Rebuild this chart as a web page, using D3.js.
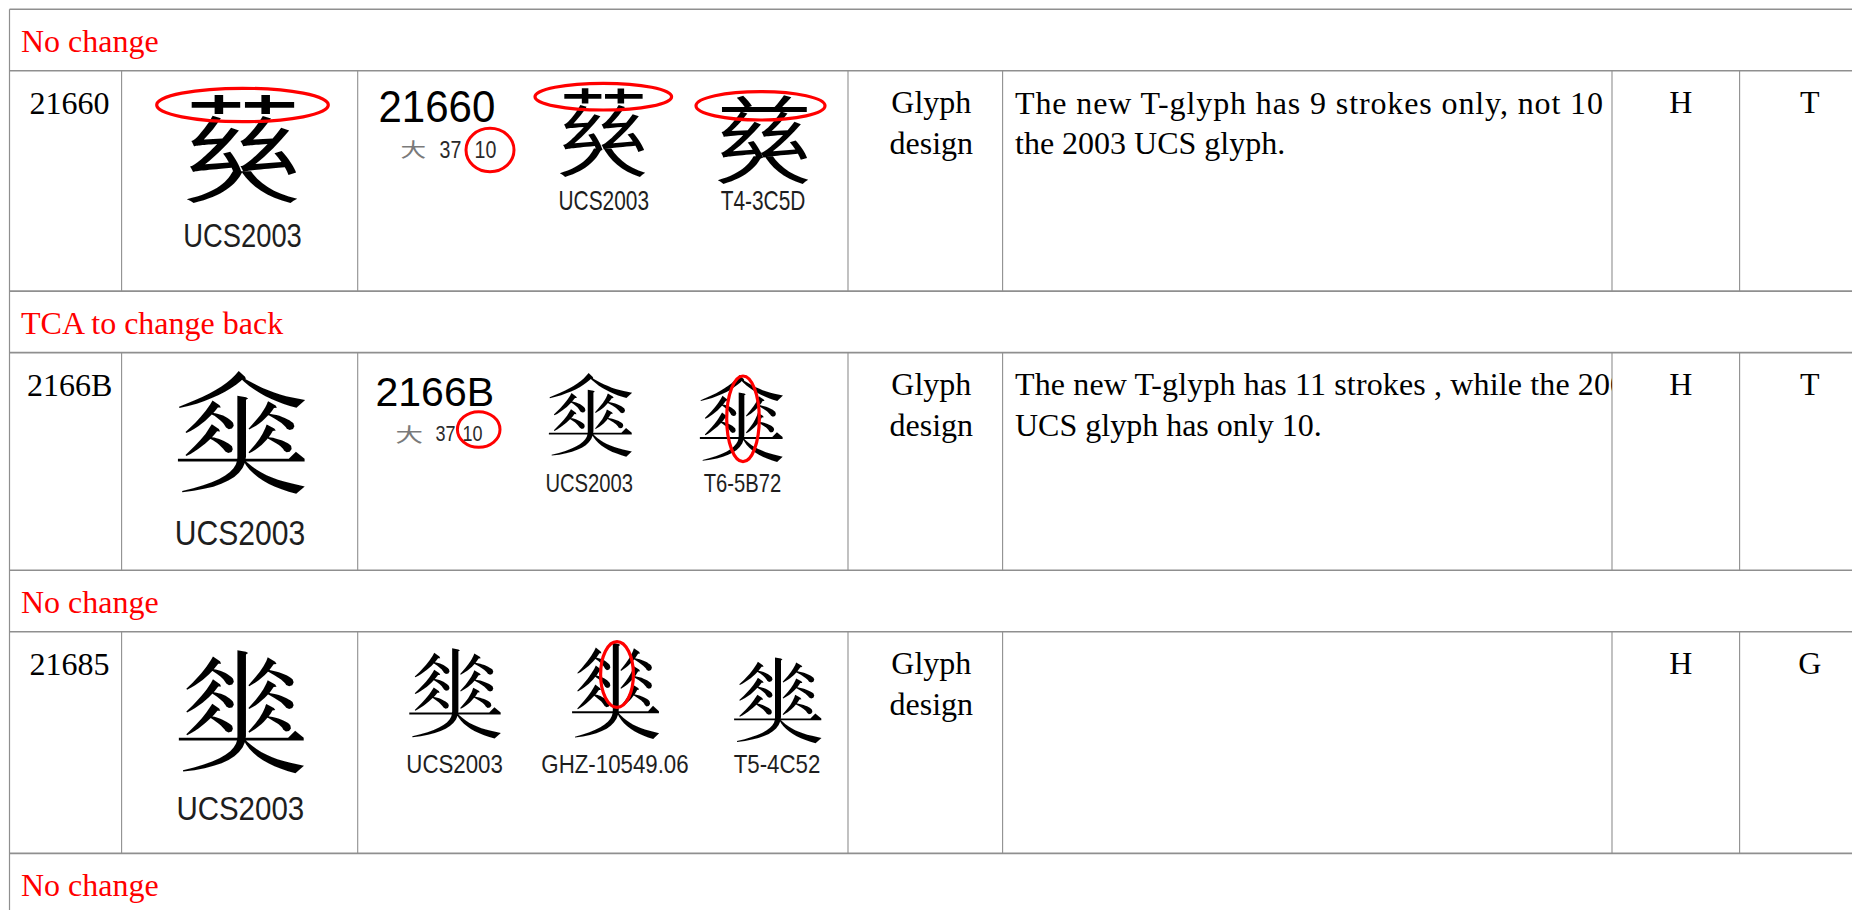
<!DOCTYPE html>
<html><head><meta charset="utf-8">
<script src="https://cdn.jsdelivr.net/npm/d3@7"></script>
<style>html,body{margin:0;padding:0;background:#fff;overflow:hidden}</style>
</head><body>
<svg id="c" width="1852" height="910"></svg>
<script>
// ---------- data ----------
const bandLabels = ["No change", "TCA to change back", "No change", "No change"];
const codes = ["21660", "2166B", "21685"];
const bigGlyphs = ["\u{21660}", "\u{2166B}", "\u{21685}"];
const bigGlyphLabels = ["UCS2003", "UCS2003", "UCS2003"];
const refCodes = ["21660", "2166B", ""];
const radicalInfo = [["大", "37", "10"], ["大", "37", "10"], null];
const variantGlyphs = [["\u{21660}", "\u{21660}"], ["\u{2166B}", "\u{2166B}"], ["\u{21685}", "\u{21685}", "\u{21685}"]];
const variantLabels = [["UCS2003", "T4-3C5D"], ["UCS2003", "T6-5B72"], ["UCS2003", "GHZ-10549.06", "T5-4C52"]];
// 𡙠 is missing from the installed fonts: it is drawn from its components 茲/兹 over 大
const componentsOf21660 = { ucs: ["茲", "大"], t: ["兹", "大"] };
const categories = [["Glyph", "design"], ["Glyph", "design"], ["Glyph", "design"]];
const comments = [["The new T-glyph has 9 strokes only, not 10", "the 2003 UCS glyph."],
                  ["The new T-glyph has 11 strokes , while the 20", "UCS glyph has only 10."], []];
const commentOverflow = ["", "03", ""];   // rest of a first line, hidden by the cell border
const colH = ["H", "H", "H"];
const colLast = ["T", "T", "G"];

// ---------- layout ----------
const W = 1852, H = 910;
const colEdges = [9.5, 121.6, 357.7, 848, 1002.6, 1612, 1739.6, 1876];
const bandH = 61.5;
const rowHeights = [220.3, 217.7, 221.6];
const serif = "'Liberation Serif','Times New Roman',serif";
const sans = "'Liberation Sans',Arial,sans-serif";
const cjkTC = "'Noto Sans CJK TC'";
const cjkSC = "'Noto Sans CJK SC'";

let yy = 9.3; const bandTops = [], rowTops = [];
bandLabels.forEach((b, i) => { bandTops.push(yy); yy += bandH; if (i < rowHeights.length) { rowTops.push(yy); yy += rowHeights[i]; } });

const x = d3.scaleOrdinal().domain(d3.range(colEdges.length)).range(colEdges);
const svg = d3.select("#c");
const defs = svg.append("defs");
const gridColor = "#8f8f8f";

// ---------- ink measurement (for fitting glyphs to the reference boxes) ----------
const CW = 520, FS = 200, OX = 160, OY = 390;
const cv = document.createElement("canvas"); cv.width = CW; cv.height = CW;
const ctx = cv.getContext("2d", { willReadFrequently: true });
function measureInk(ch, family) {
  ctx.clearRect(0, 0, CW, CW);
  ctx.font = `${FS}px ${family}`;
  ctx.fillStyle = "#000"; ctx.textBaseline = "alphabetic"; ctx.textAlign = "left";
  ctx.fillText(ch, OX, OY);
  const data = ctx.getImageData(0, 0, CW, CW).data;
  let l = 1e9, r = -1, t = 1e9, b = -1; const rows = new Array(CW).fill(0);
  for (let j = 0; j < CW; j++) for (let i = 0; i < CW; i++) {
    if (data[(j * CW + i) * 4 + 3] > 100) { rows[j]++; if (i < l) l = i; if (i > r) r = i; if (j < t) t = j; if (j > b) b = j; }
  }
  if (r < 0) return { l: 0, r: FS, t: -FS * 0.88, b: FS * 0.12, rows };
  return { l: l - OX, r: r + 1 - OX, t: t - OY, b: b + 1 - OY, rows };
}
function placeGlyph(parent, ch, family, box, fill) {
  const m = measureInk(ch, family);
  const sx = (box[1] - box[0]) / (m.r - m.l), sy = (box[3] - box[2]) / (m.b - m.t);
  return parent.append("text").attr("x", 0).attr("y", 0).attr("font-family", family).attr("font-size", FS)
    .attr("fill", fill || "#000")
    .attr("transform", `translate(${box[0] - m.l * sx},${box[2] - m.t * sy}) scale(${sx},${sy})`).text(ch);
}
let clipN = 0;
function placeComposite(parent, comp, topFamily, box, hy) {
  placeGlyph(parent, comp[0], topFamily, [box[0] + 3, box[1] - 1, box[2], hy + 3], "#000");
  const m = measureInk(comp[1], cjkTC);
  let best = -1, bi = 0;
  for (let j = m.t + OY; j < m.t + OY + 0.6 * (m.b - m.t); j++) if (m.rows[j] > best) { best = m.rows[j]; bi = j; }
  let ht = bi; while (m.rows[ht - 1] > best * 0.5) ht--;
  const hTop = ht - OY;
  const sx = (box[1] - box[0]) / (m.r - m.l), sy = (box[3] - hy) / (m.b - hTop);
  const id = "gclip" + (clipN++);
  defs.append("clipPath").attr("id", id).append("rect")
    .attr("x", box[0] - 6).attr("y", hy - 0.5).attr("width", box[1] - box[0] + 12).attr("height", box[3] - hy + 6);
  parent.append("g").attr("clip-path", `url(#${id})`).append("text")
    .attr("x", 0).attr("y", 0).attr("font-family", cjkTC).attr("font-size", FS).attr("fill", "#000")
    .attr("transform", `translate(${box[0] - m.l * sx},${hy - hTop * sy}) scale(${sx},${Math.max(sy, 0.3)})`)
    .text(comp[1]);
}

// ---------- grid ----------
const hLines = bandTops.concat(rowTops);
svg.append("g").selectAll("line").data(hLines).join("line")
  .attr("x1", x(0)).attr("x2", W).attr("y1", d => d).attr("y2", d => d)
  .attr("stroke", gridColor).attr("stroke-width", 1.6);
svg.append("line").attr("x1", x(0)).attr("x2", x(0)).attr("y1", bandTops[0]).attr("y2", H)
  .attr("stroke", gridColor).attr("stroke-width", 1.2);
rowTops.forEach((t, r) => {
  svg.append("g").selectAll("line").data(d3.range(1, colEdges.length - 1)).join("line")
    .attr("x1", d => x(d)).attr("x2", d => x(d)).attr("y1", t).attr("y2", t + rowHeights[r])
    .attr("stroke", gridColor).attr("stroke-width", 1.1);
});

// ---------- band labels ----------
svg.append("g").selectAll("text").data(bandLabels).join("text")
  .attr("x", 21).attr("y", (d, i) => bandTops[i] + 42.4)
  .attr("font-family", serif).attr("font-size", 32).attr("fill", "#ff0000").text(d => d);

const mid = (a, b) => (x(a) + x(b)) / 2;
const sq = (el, cx, s) => el.attr("transform", `translate(${cx},0) scale(${s},1) translate(${-cx},0)`);

// ---------- code column ----------
svg.append("g").selectAll("text").data(codes).join("text")
  .attr("x", mid(0, 1) + 4).attr("y", (d, i) => rowTops[i] + 43.3).attr("text-anchor", "middle")
  .attr("font-family", serif).attr("font-size", 32).attr("fill", "#000").text(d => d);

// ---------- big glyph column ----------
const gGlyph = svg.append("g");
const bigBox = [[187, 297, 95, 202], [178, 305.5, 371.7, 494], [178, 303.7, 650, 772.7]];
const bigH = [171.7, null, null];
const bigLabel = [[242.5, 246.7, 32.6, 0.84], [240, 545, 35, 0.86], [240.3, 820, 33.5, 0.88]];
bigGlyphs.forEach((g, i) => {
  if (i === 0) placeComposite(gGlyph, componentsOf21660.ucs, cjkTC, bigBox[i], bigH[i]);
  else placeGlyph(gGlyph, g, cjkTC, bigBox[i], "#000");
  const [cx, base, fs, s] = bigLabel[i];
  sq(svg.append("text").attr("x", cx).attr("y", base).attr("text-anchor", "middle")
    .attr("font-family", sans).attr("font-size", fs).attr("fill", "#1e1e1e").text(bigGlyphLabels[i]), cx, s);
});

// ---------- reference code + radical / stroke count ----------
const refPos = [[378.5, 121.7, 44, 0.955], [375.5, 405.5, 41, 1.0]];
refCodes.forEach((c, i) => {
  if (!c) return;
  const [rx, base, fs, s] = refPos[i];
  sq(svg.append("text").attr("x", rx).attr("y", base).attr("font-family", sans).attr("font-size", fs)
    .attr("fill", "#000").text(c), rx, s);
});
const radBox = [[401.7, 425, 140, 158.3], [396.7, 421.7, 425, 443.3]];
const numPos = [[[439.5, 474.5], 157.9, 24.5], [[435.5, 462.5], 440.7, 22.5]];
radicalInfo.forEach((r, i) => {
  if (!r) return;
  placeGlyph(svg, r[0], cjkTC, radBox[i], "#7a7a7a");
  const [xs, base, fs] = numPos[i];
  [r[1], r[2]].forEach((t, k) => {
    sq(svg.append("text").attr("x", xs[k]).attr("y", base).attr("font-family", sans).attr("font-size", fs)
      .attr("fill", "#2a2a2a").text(t), xs[k], 0.8);
  });
});
const radCircles = [[490, 150, 24, 21.7], [478.7, 429.5, 21.3, 17.8]];
svg.append("g").selectAll("ellipse").data(radCircles).join("ellipse")
  .attr("cx", d => d[0]).attr("cy", d => d[1]).attr("rx", d => d[2]).attr("ry", d => d[3])
  .attr("fill", "none").attr("stroke", "#ff0000").attr("stroke-width", 3);

// ---------- variant glyphs ----------
const varBox = [
  [[560, 645, 88.3, 175], [718, 808, 95, 181.7]],
  [[548.3, 631.7, 373.3, 456.7], [700, 783.3, 375, 461.7]],
  [[409, 501, 648.3, 738.3], [572, 659.5, 643, 739], [733.7, 821.5, 657.3, 742.7]]
];
const varH = [[149, 156.7]];
const varLabelCx = [[603.8, 763], [589.2, 742.5], [454.6, 615, 777]];
const varLabelBase = [210, 491.7, 773.3];
const varLabelFs = [27.5, 25.6, 25.6];
const varLabelSq = [0.76, 0.79, 0.87];
variantGlyphs.forEach((gs, r) => {
  gs.forEach((g, k) => {
    if (r === 0) placeComposite(gGlyph, k === 0 ? componentsOf21660.ucs : componentsOf21660.t, k === 0 ? cjkTC : cjkSC, varBox[r][k], varH[r][k]);
    else placeGlyph(gGlyph, g, cjkTC, varBox[r][k], "#000");
    const cx = varLabelCx[r][k];
    sq(svg.append("text").attr("x", cx).attr("y", varLabelBase[r]).attr("text-anchor", "middle")
      .attr("font-family", sans).attr("font-size", varLabelFs[r]).attr("fill", "#1e1e1e")
      .text(variantLabels[r][k]), cx, varLabelSq[r]);
  });
});

// ---------- red annotation ellipses ----------
const marks = [
  [242.5, 105, 85.8, 16.7], [603.3, 96.7, 68.3, 13.3], [760.5, 105.8, 64.5, 14.2],
  [743, 418.8, 16.3, 42.8], [617, 674.5, 16.4, 32.8]
];
svg.append("g").selectAll("ellipse").data(marks).join("ellipse")
  .attr("cx", d => d[0]).attr("cy", d => d[1]).attr("rx", d => d[2]).attr("ry", d => d[3])
  .attr("fill", "none").attr("stroke", "#ff0000").attr("stroke-width", 3.2);

// ---------- category column ----------
categories.forEach((c, i) => {
  svg.append("g").selectAll("text").data(c).join("text")
    .attr("x", mid(3, 4) + 6).attr("y", (d, k) => rowTops[i] + 42.6 + k * 40.7).attr("text-anchor", "middle")
    .attr("font-family", serif).attr("font-size", 32).attr("fill", "#000").text(d => d);
});

// ---------- comments (clipped to the cell) ----------
const firstLineLen = [588, 595, null];
comments.forEach((lines, i) => {
  const id = "clip" + i;
  defs.append("clipPath").attr("id", id).append("rect")
    .attr("x", x(4)).attr("y", rowTops[i]).attr("width", x(5) - x(4)).attr("height", rowHeights[i]);
  const g = svg.append("g").attr("clip-path", `url(#${id})`);
  g.selectAll("text").data(lines).join("text")
    .attr("x", 1015).attr("y", (d, k) => rowTops[i] + 42.8 + k * 40.8)
    .attr("font-family", serif).attr("font-size", 32).attr("fill", "#000")
    .text(d => d)
    .each(function (d, k) {
      if (k === 0 && firstLineLen[i]) d3.select(this).attr("textLength", firstLineLen[i]).attr("lengthAdjust", "spacing");
    });
  if (commentOverflow[i]) {
    g.append("text").attr("x", 1015 + firstLineLen[i]).attr("y", rowTops[i] + 42.8)
      .attr("font-family", serif).attr("font-size", 32).attr("fill", "#000").text(commentOverflow[i]);
  }
});

// ---------- H and last column ----------
svg.append("g").selectAll("text").data(colH).join("text")
  .attr("x", mid(5, 6) + 5).attr("y", (d, i) => rowTops[i] + 42.6).attr("text-anchor", "middle")
  .attr("font-family", serif).attr("font-size", 32).attr("fill", "#000").text(d => d);
svg.append("g").selectAll("text").data(colLast).join("text")
  .attr("x", mid(6, 7) + 2).attr("y", (d, i) => rowTops[i] + 42.6).attr("text-anchor", "middle")
  .attr("font-family", serif).attr("font-size", 32).attr("fill", "#000").text(d => d);
</script>
</body></html>
